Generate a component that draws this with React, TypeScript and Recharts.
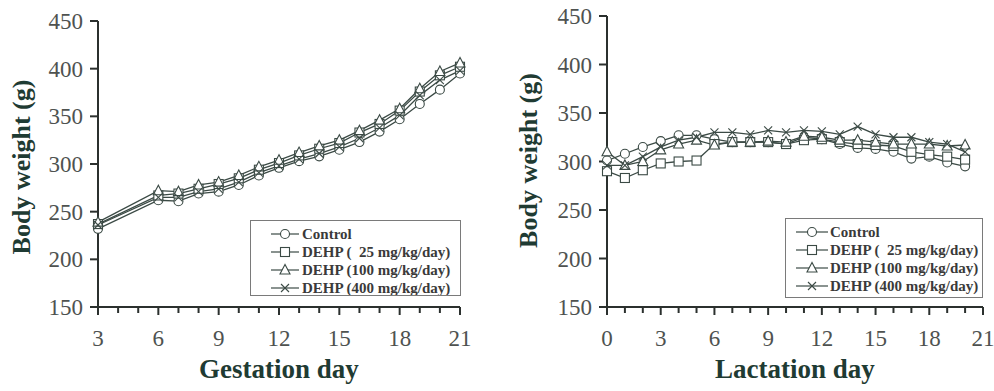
import React from 'react';
import { LineChart, Line, XAxis, YAxis, Legend } from 'recharts';

const gestationDays = [3, 6, 7, 8, 9, 10, 11, 12, 13, 14, 15, 16, 17, 18, 19, 20, 21];
const gestControl = [232, 262, 261, 269, 271, 278, 288, 296, 303, 308, 315, 323, 334, 347, 363, 378, 395];
const gest25 = [237, 267, 269, 274, 279, 285, 294, 301, 309, 316, 322, 333, 342, 356, 376, 393, 402];
const gest100 = [239, 272, 271, 278, 281, 288, 297, 304, 312, 319, 325, 335, 346, 358, 379, 397, 406];
const gest400 = [236, 265, 265, 271, 274, 281, 291, 298, 305, 311, 318, 327, 338, 351, 372, 388, 398];

const lactationDays = [0, 1, 2, 3, 4, 5, 6, 7, 8, 9, 10, 11, 12, 13, 14, 15, 16, 17, 18, 19, 20];
const lactControl = [301, 308, 315, 321, 327, 327, 323, 320, 320, 320, 318, 325, 323, 318, 314, 313, 310, 303, 305, 299, 295];
const lact25 = [290, 283, 291, 298, 300, 301, 318, 320, 320, 320, 318, 322, 323, 320, 318, 317, 316, 310, 307, 305, 302];
const lact100 = [310, 296, 300, 312, 318, 322, 317, 320, 320, 321, 320, 326, 325, 322, 322, 320, 318, 318, 318, 316, 317];
const lact400 = [296, 296, 305, 315, 322, 325, 330, 330, 328, 332, 330, 332, 331, 328, 336, 328, 325, 325, 320, 318, 310];

const gestTicks = [3, 4, 5, 6, 7, 8, 9, 10, 11, 12, 13, 14, 15, 16, 17, 18, 19, 20, 21];
const lactTicks = [0, 1, 2, 3, 4, 5, 6, 7, 8, 9, 10, 11, 12, 13, 14, 15, 16, 17, 18, 19, 20, 21];
const yTicks = [150, 200, 250, 300, 350, 400, 450];

const seriesNames = ['Control', 'DEHP (  25 mg/kg/day)', 'DEHP (100 mg/kg/day)', 'DEHP (400 mg/kg/day)'];
const seriesKeys = ['control', 'd25', 'd100', 'd400'];
const seriesShapes = ['circle', 'square', 'triangle', 'cross'];

const gestData = gestationDays.map((d, i) => ({
  day: d, control: gestControl[i], d25: gest25[i], d100: gest100[i], d400: gest400[i],
}));
const lactData = lactationDays.map((d, i) => ({
  day: d, control: lactControl[i], d25: lact25[i], d100: lact100[i], d400: lact400[i],
}));

const LINE = '#3b4a45';
const AXIS = '#2b302e';
const TICKTXT = '#4e5250';
const TITLE = '#1f3b33';
const SERIF = 'Liberation Serif, serif';

function Marker({ shape, cx, cy }: { shape: string; cx: number; cy: number }) {
  const s = { stroke: LINE, strokeWidth: 1.1, fill: '#fff' };
  if (shape === 'circle') return <circle cx={cx} cy={cy} r={4.5} {...s} />;
  if (shape === 'square') return <rect x={cx - 4.5} y={cy - 4.5} width={9} height={9} {...s} />;
  if (shape === 'triangle')
    return <polygon points={`${cx},${cy - 5.5} ${cx - 5},${cy + 4} ${cx + 5},${cy + 4}`} {...s} />;
  return (
    <g stroke={LINE} strokeWidth={1.1}>
      <line x1={cx - 4} y1={cy - 4} x2={cx + 4} y2={cy + 4} />
      <line x1={cx - 4} y1={cy + 4} x2={cx + 4} y2={cy - 4} />
    </g>
  );
}

const makeDot = (shape: string) => (props: any) => {
  const { cx, cy, index } = props;
  if (cx == null || cy == null) return <g key={`e${index}`} />;
  return <Marker key={`${shape}-${index}`} shape={shape} cx={cx} cy={cy} />;
};

const makeXTick = (start: number) => (props: any) => {
  const { x, y, payload } = props;
  const v = payload.value;
  const major = (v - start) % 3 === 0;
  return (
    <g>
      <line x1={x} x2={x} y1={y} y2={y + (major ? 8 : 6)} stroke={AXIS} strokeWidth={2} />
      {major && (
        <text x={x} y={y + 23} dy="0.71em" textAnchor="middle" style={{ fontSize: 23, fontFamily: SERIF }} fill={TICKTXT}>
          {v}
        </text>
      )}
    </g>
  );
};

const makeYTick = () => (props: any) => {
  const { x, y, payload } = props;
  return (
    <text x={x} y={y} dy="0.35em" textAnchor="end" style={{ fontSize: 23, fontFamily: SERIF }} fill={TICKTXT}>
      {payload.value}
    </text>
  );
};

function LegendBox({ lx1, lx2, tx, fs }: { lx1: number; lx2: number; tx: number; fs: number }) {
  return (
    <div style={{ border: '1px solid #7a7a7a', background: '#fff', boxSizing: 'border-box', width: '100%', height: '100%' }}>
      <svg width="100%" height="100%">
        {seriesNames.map((n, i) => {
          const cy = 13 + i * 18;
          return (
            <g key={n}>
              <line x1={lx1} x2={lx2} y1={cy} y2={cy} stroke={LINE} strokeWidth={1.2} />
              <Marker shape={seriesShapes[i]} cx={(lx1 + lx2) / 2} cy={cy} />
              <text x={tx} y={cy} dy="0.35em" style={{ fontSize: fs, fontWeight: 'bold', fontFamily: SERIF, whiteSpace: 'pre' }} fill="#3a3a3a">
                {n}
              </text>
            </g>
          );
        })}
      </svg>
    </div>
  );
}

function Panel({
  data, ticks, start, domain, width, height, margin, yWidth, xTitle, yLabelX, yLabelDy, legendPos,
}: any) {
  return (
    <LineChart width={width} height={height} data={data} margin={margin}>
      <XAxis
        dataKey="day"
        type="number"
        domain={domain}
        ticks={ticks}
        interval={0}
        tickSize={0}
        tickMargin={0}
        tickLine={false}
        tick={makeXTick(start)}
        axisLine={{ stroke: AXIS, strokeWidth: 2 }}
        height={84}
        label={{
          content: (p: any) => {
            const vb = p.viewBox;
            return (
              <text x={vb.x + vb.width / 2} y={vb.y + 71} textAnchor="middle" style={{ fontSize: 27, fontWeight: 'bold', fontFamily: SERIF }} fill={TITLE}>
                {xTitle}
              </text>
            );
          },
        }}
      />
      <YAxis
        type="number"
        domain={[150, 450]}
        ticks={yTicks}
        interval={0}
        width={yWidth}
        tickSize={8}
        tickMargin={7}
        tickLine={{ stroke: AXIS, strokeWidth: 2 }}
        axisLine={{ stroke: AXIS, strokeWidth: 2 }}
        tick={makeYTick()}
        label={{
          content: (p: any) => {
            const vb = p.viewBox;
            const cx = vb.x + yLabelX;
            const cy = vb.y + vb.height / 2 + yLabelDy;
            return (
              <text x={cx} y={cy} transform={`rotate(-90 ${cx} ${cy})`} textAnchor="middle" dy="0.35em" style={{ fontSize: 26, fontWeight: 'bold', fontFamily: SERIF }} fill={TITLE}>
                Body weight (g)
              </text>
            );
          },
        }}
      />
      <Legend
        layout="vertical"
        align="center"
        verticalAlign="middle"
        wrapperStyle={{ position: 'absolute', left: legendPos.left, top: legendPos.top, width: legendPos.width, height: legendPos.height }}
        content={() => <LegendBox lx1={legendPos.lx1} lx2={legendPos.lx2} tx={legendPos.tx} fs={legendPos.fs} />}
      />
      {seriesKeys.map((k, i) => (
        <Line
          key={k}
          dataKey={k}
          name={seriesNames[i]}
          stroke={LINE}
          strokeWidth={1.3}
          dot={makeDot(seriesShapes[i])}
          isAnimationActive={false}
        />
      ))}
    </LineChart>
  );
}

export default function App() {
  return (
    <div style={{ position: 'absolute', left: 0, top: 0, width: 994, height: 391, background: '#fff' }}>
      <div style={{ position: 'absolute', left: 0, top: 0 }}>
        <Panel
          data={gestData}
          ticks={gestTicks}
          start={3}
          domain={[3, 21]}
          width={480}
          height={391}
          margin={{ top: 21, right: 20, bottom: 0, left: 0 }}
          yWidth={98}
          xTitle="Gestation day"
          yLabelX={21}
          yLabelDy={3}
          legendPos={{ left: 250, top: 220, width: 211, height: 76, lx1: 20, lx2: 48, tx: 51, fs: 15 }}
        />
      </div>
      <div style={{ position: 'absolute', left: 500, top: 0 }}>
        <Panel
          data={lactData}
          ticks={lactTicks}
          start={0}
          domain={[0, 21]}
          width={494}
          height={391}
          margin={{ top: 16, right: 11, bottom: 0, left: 0 }}
          yWidth={107}
          xTitle="Lactation day"
          yLabelX={28}
          yLabelDy={-1}
          legendPos={{ left: 285, top: 218, width: 198, height: 80, lx1: 10, lx2: 42, tx: 44, fs: 15 }}
        />
      </div>
    </div>
  );
}
